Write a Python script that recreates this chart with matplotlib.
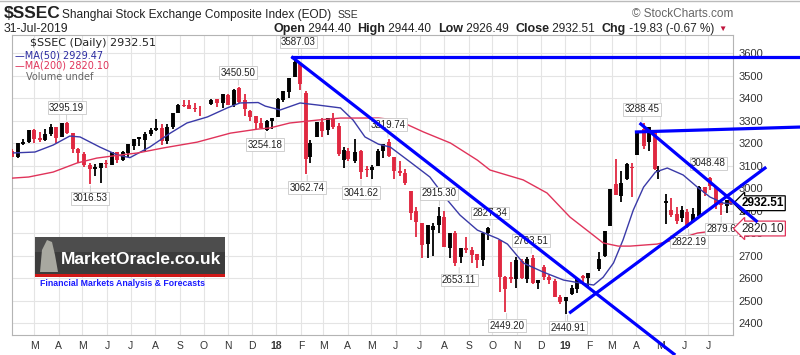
import matplotlib
matplotlib.use("Agg")
import matplotlib.pyplot as plt
import matplotlib.dates as mdates
from matplotlib.patches import Rectangle, Polygon
import numpy as np

plt.rcParams['font.family'] = ['Liberation Sans', 'DejaVu Sans']

# weekly bars (week ending date)
week_end = ['2017-02-03', '2017-02-10', '2017-02-17', '2017-02-24', '2017-03-03', '2017-03-10',
            '2017-03-17', '2017-03-24', '2017-03-31', '2017-04-07', '2017-04-14', '2017-04-21',
            '2017-04-28', '2017-05-05', '2017-05-12', '2017-05-19', '2017-05-26', '2017-06-02',
            '2017-06-09', '2017-06-16', '2017-06-23', '2017-06-30', '2017-07-07', '2017-07-14',
            '2017-07-21', '2017-07-28', '2017-08-04', '2017-08-11', '2017-08-18', '2017-08-25',
            '2017-09-01', '2017-09-08', '2017-09-15', '2017-09-22', '2017-09-29', '2017-10-13',
            '2017-10-20', '2017-10-27', '2017-11-03', '2017-11-10', '2017-11-17', '2017-11-24',
            '2017-12-01', '2017-12-08', '2017-12-15', '2017-12-22', '2017-12-29',
            '2018-01-05', '2018-01-12', '2018-01-19', '2018-01-26', '2018-02-02', '2018-02-09',
            '2018-02-14', '2018-02-23', '2018-03-02', '2018-03-09', '2018-03-16', '2018-03-23',
            '2018-03-30', '2018-04-04', '2018-04-13', '2018-04-20', '2018-04-27', '2018-05-04',
            '2018-05-11', '2018-05-18', '2018-05-25', '2018-06-01', '2018-06-08', '2018-06-15',
            '2018-06-22', '2018-06-29', '2018-07-06', '2018-07-13', '2018-07-20', '2018-07-27',
            '2018-08-03', '2018-08-10', '2018-08-17', '2018-08-24', '2018-08-31', '2018-09-07',
            '2018-09-14', '2018-09-21', '2018-09-28', '2018-10-12', '2018-10-19', '2018-10-26',
            '2018-11-02', '2018-11-09', '2018-11-16', '2018-11-23', '2018-11-30', '2018-12-07',
            '2018-12-14', '2018-12-21', '2018-12-28',
            '2019-01-04', '2019-01-11', '2019-01-18', '2019-01-25', '2019-02-01', '2019-02-15',
            '2019-02-22', '2019-03-01', '2019-03-08', '2019-03-15', '2019-03-22', '2019-03-29',
            '2019-04-04', '2019-04-12', '2019-04-19', '2019-04-26', '2019-04-30', '2019-05-10',
            '2019-05-17', '2019-05-24', '2019-05-31', '2019-06-06', '2019-06-14', '2019-06-21',
            '2019-06-28', '2019-07-05', '2019-07-12', '2019-07-19', '2019-07-26', '2019-07-31']
w_open = [3160, 3140, 3197, 3203, 3253, 3220, 3213, 3238, 3268, 3228, 3288, 3240,
          3170, 3150, 3100, 3085, 3089, 3110, 3104, 3155, 3123, 3157, 3187, 3216,
          3212, 3240, 3256, 3265, 3210, 3270, 3334, 3368, 3368, 3353, 3350, 3374,
          3392, 3380, 3410, 3368, 3440, 3390, 3338, 3315, 3285, 3260, 3297,
          3314, 3391, 3428, 3494, 3548, 3418, 3138, 3225, 3290, 3258, 3310, 3272,
          3124, 3161, 3120, 3163, 3083, 3081, 3097, 3164, 3200, 3135, 3074, 3066,
          2986, 2895, 2841, 2751, 2814, 2834, 2869, 2733, 2795, 2693, 2730, 2720,
          2702, 2681, 2801, 2768, 2601, 2600, 2595, 2671, 2598, 2686, 2576, 2647,
          2600, 2586, 2513,
          2498, 2528, 2550, 2607, 2601, 2640, 2700, 2830, 3015, 2963, 3042, 3092,
          3145, 3258, 3205, 3250, 3070, 2932, 2900, 2880, 2868, 2890, 2852, 2875,
          3000, 3040, 3000, 2932, 2920, 2945]
w_high = [3174, 3199, 3217, 3260, 3263, 3247, 3261, 3284, 3269, 3287, 3295, 3243,
          3180, 3160, 3113, 3107, 3113, 3125, 3162, 3160, 3163, 3193, 3220, 3228,
          3250, 3267, 3305, 3284, 3286, 3333, 3372, 3391, 3390, 3376, 3366, 3397,
          3392, 3418, 3420, 3440, 3450, 3420, 3345, 3315, 3310, 3304, 3311,
          3402, 3430, 3488, 3587, 3557, 3429, 3214, 3290, 3313, 3310, 3334, 3289,
          3184, 3177, 3220, 3167, 3100, 3103, 3175, 3184, 3220, 3135, 3118, 3083,
          2986, 2915, 2843, 2832, 2844, 2915, 2897, 2800, 2808, 2731, 2781, 2736,
          2705, 2801, 2827, 2771, 2611, 2672, 2695, 2686, 2694, 2704, 2590, 2659,
          2614, 2594, 2524,
          2515, 2570, 2597, 2613, 2620, 2715, 2804, 2997, 3129, 3075, 3111, 3110,
          3251, 3288, 3272, 3250, 3098, 2974, 2955, 2914, 2920, 2905, 2913, 3010,
          3003, 3048, 3000, 2946, 2946, 2952]
w_low = [3136, 3132, 3193, 3200, 3200, 3206, 3211, 3233, 3200, 3227, 3242, 3156,
         3111, 3092, 3016, 3053, 3022, 3090, 3101, 3112, 3118, 3140, 3168, 3186,
         3160, 3233, 3252, 3192, 3194, 3264, 3334, 3358, 3353, 3340, 3321, 3370,
         3358, 3356, 3371, 3361, 3376, 3320, 3299, 3257, 3268, 3254, 3264,
         3314, 3381, 3402, 3494, 3436, 3062, 3112, 3225, 3225, 3236, 3262, 3142,
         3091, 3122, 3110, 3041, 3049, 3039, 3097, 3134, 3138, 3041, 3055, 3014,
         2857, 2782, 2691, 2688, 2699, 2802, 2737, 2691, 2653, 2665, 2710, 2669,
         2644, 2653, 2770, 2536, 2449, 2580, 2556, 2595, 2580, 2575, 2550, 2593,
         2573, 2515, 2483,
         2441, 2524, 2535, 2570, 2562, 2630, 2695, 2830, 2969, 2936, 3036, 2959,
         3145, 3175, 3164, 3079, 3040, 2838, 2873, 2838, 2850, 2822, 2849, 2873,
         2963, 2990, 2905, 2880, 2890, 2926]
w_close = [3140, 3196, 3202, 3253, 3218, 3212, 3237, 3269, 3223, 3286, 3246, 3173,
           3154, 3103, 3083, 3090, 3110, 3105, 3158, 3123, 3157, 3192, 3217, 3222,
           3237, 3253, 3262, 3208, 3268, 3331, 3367, 3365, 3353, 3352, 3349, 3390,
           3378, 3416, 3371, 3432, 3382, 3353, 3317, 3289, 3266, 3297, 3307,
           3391, 3429, 3487, 3558, 3462, 3129, 3199, 3289, 3254, 3307, 3269, 3152,
           3168, 3131, 3159, 3071, 3082, 3091, 3163, 3193, 3141, 3075, 3067, 3021,
           2889, 2847, 2747, 2831, 2829, 2874, 2740, 2795, 2669, 2730, 2725, 2702,
           2682, 2797, 2821, 2606, 2550, 2598, 2676, 2599, 2680, 2579, 2588, 2605,
           2593, 2516, 2494,
           2514, 2554, 2596, 2601, 2618, 2682, 2804, 2994, 2969, 3021, 3104, 3090,
           3247, 3189, 3270, 3086, 3078, 2939, 2882, 2852, 2898, 2827, 2882, 3001,
           2979, 3011, 2930, 2924, 2944, 2932]

# moving averages
ma50_dates = ['2017-02-03', '2017-03-02', '2017-03-25', '2017-04-15', '2017-04-28', '2017-05-23',
              '2017-06-14', '2017-06-30', '2017-07-25', '2017-08-20', '2017-09-10', '2017-10-06',
              '2017-10-31', '2017-11-16', '2017-12-09', '2017-12-18', '2018-01-06', '2018-01-31',
              '2018-02-22', '2018-03-23', '2018-04-08', '2018-04-23', '2018-05-10', '2018-05-25',
              '2018-06-19', '2018-07-14', '2018-08-05', '2018-08-21', '2018-09-12', '2018-10-08',
              '2018-10-20', '2018-11-09', '2018-12-04', '2018-12-30', '2019-01-20', '2019-02-06',
              '2019-02-18', '2019-03-03', '2019-03-15', '2019-03-28', '2019-04-10', '2019-04-25',
              '2019-05-10', '2019-05-30', '2019-06-17', '2019-07-03', '2019-07-20', '2019-07-31']
ma50_vals = [3156, 3160, 3191, 3231, 3227, 3182, 3147, 3135, 3182, 3244, 3289, 3316,
             3356, 3378, 3380, 3364, 3347, 3378, 3369, 3356, 3302, 3227, 3195, 3182,
             3116, 3049, 2947, 2880, 2813, 2775, 2751, 2667, 2627, 2591, 2578, 2569,
             2604, 2667, 2769, 2902, 3004, 3071, 3089, 3058, 3004, 2960, 2933, 2929.47]
ma200_dates = ['2017-02-01', '2017-02-22', '2017-03-25', '2017-04-24', '2017-05-19', '2017-06-18',
               '2017-07-10', '2017-08-11', '2017-09-23', '2017-11-04', '2017-12-09', '2017-12-24',
               '2018-01-18', '2018-02-22', '2018-03-23', '2018-05-10', '2018-06-03', '2018-07-06',
               '2018-08-09', '2018-09-12', '2018-09-28', '2018-11-09', '2018-12-09', '2019-01-07',
               '2019-02-02', '2019-02-18', '2019-03-09', '2019-03-24', '2019-04-27', '2019-05-23',
               '2019-06-17', '2019-07-31']
ma200_vals = [3044, 3049, 3071, 3111, 3133, 3147, 3156, 3178, 3204, 3244, 3262, 3267,
              3289, 3302, 3311, 3311, 3302, 3249, 3200, 3124, 3080, 3036, 2978, 2871,
              2800, 2756, 2742, 2742, 2751, 2773, 2800, 2820.10]

# peak / trough labels
lbl_dates = ['2017-04-11', '2017-05-11', '2017-11-14', '2017-12-18', '2018-01-29', '2018-02-09',
             '2018-04-18', '2018-05-22', '2018-07-26', '2018-08-20', '2018-09-28', '2018-10-19',
             '2018-11-19', '2019-01-04', '2019-04-08', '2019-06-06', '2019-07-01', '2019-07-17']
lbl_prices = [3295.19, 3016.53, 3450.50, 3254.18, 3587.03, 3062.74, 3041.62, 3219.74, 2915.30,
              2653.11, 2827.34, 2449.20, 2703.51, 2440.91, 3288.45, 2822.19, 3048.48, 2879.60]
lbl_texts = ['3295.19', '3016.53', '3450.50', '3254.18', '3587.03', '3062.74', '3041.62', '3219.74',
             '2915.30', '2653.11', '2827.34', '2449.20', '2703.51', '2440.91', '3288.45', '2822.19',
             '3048.48', '2879.6']
lbl_up = [True, False, True, False, True, False, False, True, True, False, True, False,
          True, False, True, False, True, False]

# hand-drawn blue trend lines (start, end) in date / price
trend_start = [('2018-01-20', 3584), ('2018-01-20', 3584), ('2019-03-30', 3249),
               ('2019-04-05', 3289), ('2019-01-06', 2444)]
trend_end = [('2019-10-25', 3584), ('2019-05-20', 2258), ('2019-10-25', 3271),
             ('2019-09-01', 2849), ('2019-09-12', 3093)]

last_close = 2932.51
last_ma50 = 2929.47
last_ma200 = 2820.10


def dn(lst):
    return mdates.date2num(np.array(lst, dtype='datetime64[D]'))


W, H = 800, 355
fig = plt.figure(figsize=(8, 3.55), dpi=100)
ax = fig.add_axes([12 / W, 20 / H, 721 / W, 300 / H])

# bars
xb = dn(week_end) - 2
o, h, l, c = map(np.array, (w_open, w_high, w_low, w_close))
col = np.where(c >= o, 'black', '#e02840')
ax.vlines(xb, l, h, colors=col, lw=1.3, zorder=3)
ax.vlines(xb, np.minimum(o, c), np.maximum(o, c) + 3, colors=col, lw=2.8, zorder=3)

ax.plot(dn(ma50_dates), ma50_vals, color='#3a3aa8', lw=1.0, zorder=4)
ax.plot(dn(ma200_dates), ma200_vals, color='#e0335a', lw=1.0, zorder=4)

for d, p, t, up in zip(lbl_dates, lbl_prices, lbl_texts, lbl_up):
    ax.annotate(t, xy=(dn([d])[0], p), xytext=(0, 10 if up else -10), textcoords='offset points',
                ha='center', va='center', fontsize=7, color='#222222',
                bbox=dict(boxstyle='square,pad=0.15', fc='white', ec='#c8c8c8', lw=0.6),
                arrowprops=dict(arrowstyle='-', color='#c8c8c8', lw=0.6, shrinkA=0, shrinkB=1),
                zorder=6, annotation_clip=False)

for (d0, p0), (d1, p1) in zip(trend_start, trend_end):
    ax.plot(dn([d0, d1]), [p0, p1], color='#0000ff', lw=2.3, clip_on=False, zorder=8,
            solid_capstyle='butt')

ax.set_xlim(dn(['2017-02-01'])[0], dn(['2019-08-01'])[0])
ax.set_ylim(2347, 3680)

months = np.arange(np.datetime64('2017-03'), np.datetime64('2019-08'))
mticks = mdates.date2num(months.astype('datetime64[D]'))
mlabels = [str(m)[2:4] if str(m).endswith('-01') else
           'JFMAMJJASOND'[int(str(m)[5:7]) - 1] for m in months]
ax.set_xticks(mticks)
ax.set_xticklabels(mlabels)
for lab in ax.get_xticklabels():
    if lab.get_text().isdigit():
        lab.set_fontweight('bold')
        lab.set_fontsize(8.5)
ax.set_yticks(np.arange(2400, 3601, 100))
ax.yaxis.tick_right()
ax.tick_params(axis='x', length=0, pad=4, labelsize=7.5, labelcolor='#333333')
ax.tick_params(axis='y', length=0, pad=4, labelsize=8, labelcolor='#333333')
ax.grid(True, color='#e4e4e4', lw=0.8, zorder=0)
for s in ax.spines.values():
    s.set_color('#b4b4b4')
    s.set_linewidth(0.8)

# last value tags
ax.annotate('%.2f' % last_close, xy=(1, last_close), xycoords=('axes fraction', 'data'),
            xytext=(6, 0), textcoords='offset points', ha='left', va='center',
            fontsize=8.5, fontweight='bold', color='black',
            bbox=dict(boxstyle='larrow,pad=0.12', fc='white', ec='black', lw=0.9),
            annotation_clip=False, zorder=7)
ax.annotate('%.2f' % last_ma200, xy=(1, last_ma200), xycoords=('axes fraction', 'data'),
            xytext=(6, 0), textcoords='offset points', ha='left', va='center',
            fontsize=8.5, color='#222222',
            bbox=dict(boxstyle='larrow,pad=0.12', fc='white', ec='#e0335a', lw=0.9),
            annotation_clip=False, zorder=7)

# in-chart legend
fig.text(30 / W, 1 - 43 / H, '$SSEC (Daily) %.2f' % last_close, family='DejaVu Sans',
         fontsize=8, color='#222222', va='center')
fig.text(15 / W, 1 - 55 / H, '\u2014MA(50) %.2f' % last_ma50, family='DejaVu Sans',
         fontsize=7, color='#2a2aa0', va='center')
fig.text(15 / W, 1 - 66 / H, '\u2014MA(200) %.2f' % last_ma200, family='DejaVu Sans',
         fontsize=7, color='#e0335a', va='center')
fig.text(26 / W, 1 - 77 / H, 'Volume undef', family='DejaVu Sans',
         fontsize=7, color='#666666', va='center')

# header
fig.add_artist(plt.Line2D([0, 1], [1 - 1 / H, 1 - 1 / H], color='#bbbbbb', lw=1))
fig.text(4 / W, 1 - 18 / H, '$SSEC', fontsize=12.5, fontweight='bold', color='#222222', va='baseline')
fig.text(62 / W, 1 - 18 / H, 'Shanghai Stock Exchange Composite Index (EOD)', fontsize=8.6,
         color='#222222', va='baseline')
fig.text(338 / W, 1 - 18 / H, 'SSE', fontsize=7.5, color='#333333', va='baseline')
fig.text(733 / W, 1 - 17 / H, '\u00a9 StockCharts.com', fontsize=8.5, color='#666666',
         ha='right', va='baseline')
fig.text(4 / W, 1 - 32 / H, '31-Jul-2019', fontsize=8.8, color='#222222', va='baseline')

# OHLC summary line, pieces chained left to right
parts = [('Open', True), (' 2944.40  ', False), ('High', True), (' 2944.40  ', False),
         ('Low', True), (' 2926.49  ', False), ('Close', True), (' 2932.51  ', False),
         ('Chg', True), (' -19.83 (-0.67 %)', False)]
prev = fig.text(273 / W, 1 - 32 / H, parts[0][0], fontsize=9, fontweight='bold',
                color='#222222', va='baseline')
for txt, bold in parts[1:]:
    prev = ax.annotate(txt, xy=(1, 0), xycoords=prev, ha='left', va='bottom',
                       fontsize=9 if bold else 8.5, fontweight='bold' if bold else 'normal',
                       color='#222222', annotation_clip=False)
ax.annotate('\u25bc', xy=(1, 0.15), xycoords=prev, xytext=(3, 0), textcoords='offset points',
            ha='left', va='bottom', fontsize=6, color='#c0143c', annotation_clip=False)

# MarketOracle logo
fig.add_artist(Rectangle((35 / W, 1 - 274 / H), 190 / W, 37 / H, transform=fig.transFigure,
                         fc='#3c3c3c', ec='none', zorder=9))
fig.add_artist(Rectangle((35 / W, 1 - 252 / H), 190 / W, 15 / H, transform=fig.transFigure,
                         fc='#4d4d4d', ec='none', zorder=9))
fig.add_artist(Rectangle((35 / W, 1 - 277 / H), 190 / W, 3 / H, transform=fig.transFigure,
                         fc='#d01818', ec='none', zorder=9))
fig.add_artist(Polygon([(40 / W, 1 - 272 / H), (42 / W, 1 - 250 / H), (47 / W, 1 - 240 / H),
                        (52 / W, 1 - 242 / H), (55 / W, 1 - 255 / H), (58 / W, 1 - 272 / H)],
                       closed=True, transform=fig.transFigure, fc='#a8a8a0', ec='none', zorder=10))
fig.text(61 / W, 1 - 259 / H, 'MarketOracle.co.uk', fontsize=12.5, fontweight='bold',
         color='white', va='center', zorder=11)
fig.text(40 / W, 1 - 283 / H, 'Financial Markets Analysis & Forecasts', fontsize=6.3,
         fontweight='bold', color='#1a1aff', va='center', zorder=11)

fig.savefig('out.png', dpi=100, facecolor='white')
